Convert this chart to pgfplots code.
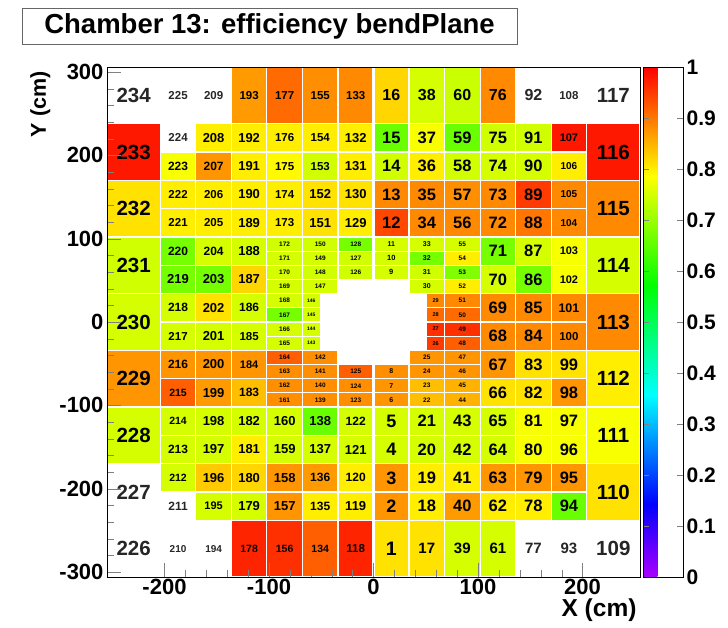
\documentclass[border=0pt]{standalone}
\usepackage{fontspec}
\setmainfont{Liberation Sans}
\usepackage{pgfplots}
\usepgfplotslibrary{patchplots}
\pgfplotsset{compat=1.18}
\pgfplotsset{colormap={rootpal}{rgb(0pt)=(0.667,0,1) rgb(40pt)=(0,0,1) rgb(100pt)=(0,1,1) rgb(160pt)=(0,1,0) rgb(220pt)=(1,1,0) rgb(280pt)=(1,0,0)}}
% x1 x2 y1 y2 efficiency label fontsize
\newcommand\cell[7]{%
 \addplot[patch,patch type=rectangle,shader=faceted,faceted color=white,line width=1.2pt,point meta=explicit]
   coordinates {(#1,#3) [#5] (#2,#3) [#5] (#2,#4) [#5] (#1,#4) [#5]};
 \node[font=\bfseries\fontsize{#7}{#7}\selectfont,inner sep=0pt] at (axis cs:{(#1+#2)/2},{(#3+#4)/2}) {#6};}
\newcommand\ecell[6]{%
 \node[font=\bfseries\fontsize{#6}{#6}\selectfont,inner sep=0pt,black!85] at (axis cs:{(#1+#2)/2},{(#3+#4)/2}) {#5};}
\begin{document}
\begin{tikzpicture}
\useasboundingbox (-107pt,-51pt) rectangle (621pt,577pt);
\begin{axis}[
  scale only axis, width=533pt, height=510pt, at={(0,0)}, anchor=south west,
  xmin=-255, xmax=255, ymin=-306, ymax=306,
  axis on top,
  colormap name=rootpal, point meta min=0, point meta max=1,
  xtick={-200,-100,0,100,200}, ytick={-300,-200,-100,0,100,200,300},
  minor tick num=4, tick align=inside, xtick pos=bottom, ytick pos=left,
  major tick length=14pt, minor tick length=7pt,
  /pgf/number format/assume math mode=true,
  ticklabel style={font=\bfseries\fontsize{22}{22}\selectfont},
  xticklabel style={yshift=1pt},
  xlabel={X (cm)}, ylabel={Y (cm)},
  xlabel style={font=\bfseries\fontsize{24.5}{24.5}\selectfont, at={(axis description cs:1,-0.066)}, anchor=east},
  ylabel style={font=\bfseries\fontsize{21.5}{21.5}\selectfont, at={(axis description cs:-0.125,0.998)}, anchor=east},
  colorbar,
  colorbar shift/.style={xshift=3pt},
  colorbar style={scale only axis, width=40pt,
    ytick={0,0.1,0.2,0.3,0.4,0.5,0.6,0.7,0.8,0.9,1},
    /pgf/number format/assume math mode=true,
    yticklabel style={font=\bfseries\fontsize{21}{21}\selectfont,/pgf/number format/fixed,/pgf/number format/precision=1},
    major tick length=6pt, tick align=inside},
]
% ---- line 9
\ecell{-255}{-204}{238}{306}{234}{20.5}
\ecell{-204}{-170}{238}{306}{225}{11.5}
\ecell{-170}{-136}{238}{306}{209}{11.5}
\cell{-136}{-102}{238}{306}{0.87}{193}{11.5}
\cell{-102}{-68}{238}{306}{0.91}{177}{11.5}
\cell{-68}{-34}{238}{306}{0.88}{155}{11.5}
\cell{-34}{0}{238}{306}{0.885}{133}{11.5}
\cell{0}{34}{238}{306}{0.82}{16}{16}
\cell{34}{68}{238}{306}{0.75}{38}{16}
\cell{68}{102}{238}{306}{0.74}{60}{16}
\cell{102}{136}{238}{306}{0.885}{76}{16}
\ecell{136}{170}{238}{306}{92}{16}
\ecell{170}{204}{238}{306}{108}{11.5}
\ecell{204}{255}{238}{306}{117}{20.5}
% ---- line 8
\cell{-255}{-204}{170}{238}{0.98}{233}{20.5}
\ecell{-204}{-170}{204}{238}{224}{11.5}
\cell{-204}{-170}{170}{204}{0.78}{223}{12}
\cell{-170}{-136}{204}{238}{0.80}{208}{13}
\cell{-170}{-136}{170}{204}{0.875}{207}{12}
\cell{-136}{-102}{204}{238}{0.80}{192}{13}
\cell{-136}{-102}{170}{204}{0.80}{191}{13}
\cell{-102}{-68}{204}{238}{0.80}{176}{11.5}
\cell{-102}{-68}{170}{204}{0.79}{175}{11.5}
\cell{-68}{-34}{204}{238}{0.80}{154}{11.5}
\cell{-68}{-34}{170}{204}{0.745}{153}{11.5}
\cell{-34}{0}{204}{238}{0.80}{132}{13}
\cell{-34}{0}{170}{204}{0.80}{131}{13}
\cell{0}{34}{204}{238}{0.66}{15}{16.5}
\cell{0}{34}{170}{204}{0.745}{14}{16.5}
\cell{34}{68}{204}{238}{0.78}{37}{16.5}
\cell{34}{68}{170}{204}{0.80}{36}{16.5}
\cell{68}{102}{204}{238}{0.66}{59}{16.5}
\cell{68}{102}{170}{204}{0.745}{58}{16.5}
\cell{102}{136}{204}{238}{0.745}{75}{16.5}
\cell{102}{136}{170}{204}{0.75}{74}{16.5}
\cell{136}{170}{204}{238}{0.745}{91}{16.5}
\cell{136}{170}{170}{204}{0.75}{90}{16.5}
\cell{170}{204}{204}{238}{0.98}{107}{11}
\cell{170}{204}{170}{204}{0.80}{106}{10}
\cell{204}{255}{170}{238}{0.98}{116}{20.5}
% ---- line 7
\cell{-255}{-204}{102}{170}{0.81}{232}{20.5}
\cell{-204}{-170}{136}{170}{0.80}{222}{11.5}
\cell{-204}{-170}{102}{136}{0.80}{221}{11.5}
\cell{-170}{-136}{136}{170}{0.80}{206}{11.5}
\cell{-170}{-136}{102}{136}{0.80}{205}{11.5}
\cell{-136}{-102}{136}{170}{0.80}{190}{13}
\cell{-136}{-102}{102}{136}{0.80}{189}{13}
\cell{-102}{-68}{136}{170}{0.80}{174}{11.5}
\cell{-102}{-68}{102}{136}{0.80}{173}{11.5}
\cell{-68}{-34}{136}{170}{0.81}{152}{13}
\cell{-68}{-34}{102}{136}{0.81}{151}{13}
\cell{-34}{0}{136}{170}{0.81}{130}{13}
\cell{-34}{0}{102}{136}{0.80}{129}{13}
\cell{0}{34}{136}{170}{0.885}{13}{16.5}
\cell{0}{34}{102}{136}{0.94}{12}{16.5}
\cell{34}{68}{136}{170}{0.885}{35}{16.5}
\cell{34}{68}{102}{136}{0.885}{34}{16.5}
\cell{68}{102}{136}{170}{0.88}{57}{16.5}
\cell{68}{102}{102}{136}{0.885}{56}{16.5}
\cell{102}{136}{136}{170}{0.885}{73}{16.5}
\cell{102}{136}{102}{136}{0.885}{72}{16.5}
\cell{136}{170}{136}{170}{0.95}{89}{16.5}
\cell{136}{170}{102}{136}{0.90}{88}{16.5}
\cell{170}{204}{136}{170}{0.885}{105}{10}
\cell{170}{204}{102}{136}{0.885}{104}{10}
\cell{204}{255}{102}{170}{0.885}{115}{20.5}
% ---- line 6
\cell{-255}{-204}{34}{102}{0.745}{231}{20.5}
\cell{-204}{-170}{68}{102}{0.67}{220}{12}
\cell{-204}{-170}{34}{68}{0.67}{219}{13}
\cell{-170}{-136}{68}{102}{0.75}{204}{12}
\cell{-170}{-136}{34}{68}{0.67}{203}{13}
\cell{-136}{-102}{68}{102}{0.75}{188}{13}
\cell{-136}{-102}{34}{68}{0.82}{187}{13}
\cell{-102}{-68}{85}{102}{0.745}{172}{6.5}
\cell{-102}{-68}{68}{85}{0.75}{171}{6.5}
\cell{-102}{-68}{51}{68}{0.75}{170}{6.5}
\cell{-102}{-68}{34}{51}{0.75}{169}{6.5}
\cell{-68}{-34}{85}{102}{0.745}{150}{6.5}
\cell{-68}{-34}{68}{85}{0.75}{149}{6.5}
\cell{-68}{-34}{51}{68}{0.745}{148}{6.5}
\cell{-68}{-34}{34}{51}{0.75}{147}{6.5}
\cell{-34}{0}{85}{102}{0.67}{128}{6.5}
\cell{-34}{0}{68}{85}{0.745}{127}{6.5}
\cell{-34}{0}{51}{68}{0.745}{126}{6.5}
\cell{0}{34}{85}{102}{0.75}{11}{7}
\cell{0}{34}{68}{85}{0.75}{10}{7.5}
\cell{0}{34}{51}{68}{0.75}{9}{7.5}
\cell{34}{68}{85}{102}{0.75}{33}{7}
\cell{34}{68}{68}{85}{0.67}{32}{7}
\cell{34}{68}{51}{68}{0.745}{31}{7}
\cell{34}{68}{34}{51}{0.75}{30}{7}
\cell{68}{102}{85}{102}{0.75}{55}{6.5}
\cell{68}{102}{68}{85}{0.80}{54}{6.5}
\cell{68}{102}{51}{68}{0.68}{53}{6.5}
\cell{68}{102}{34}{51}{0.80}{52}{6.5}
\cell{102}{136}{68}{102}{0.67}{71}{16.5}
\cell{102}{136}{34}{68}{0.75}{70}{16.5}
\cell{136}{170}{68}{102}{0.75}{87}{16.5}
\cell{136}{170}{34}{68}{0.67}{86}{16.5}
\cell{170}{204}{68}{102}{0.78}{103}{11}
\cell{170}{204}{34}{68}{0.78}{102}{11}
\cell{204}{255}{34}{102}{0.75}{114}{20.5}
% ---- line 5
\cell{-255}{-204}{-34}{34}{0.75}{230}{20.5}
\cell{-204}{-170}{0}{34}{0.75}{218}{12}
\cell{-204}{-170}{-34}{0}{0.75}{217}{11.5}
\cell{-170}{-136}{0}{34}{0.81}{202}{13}
\cell{-170}{-136}{-34}{0}{0.75}{201}{13}
\cell{-136}{-102}{0}{34}{0.75}{186}{12}
\cell{-136}{-102}{-34}{0}{0.75}{185}{11.5}
\cell{-102}{-68}{17}{34}{0.75}{168}{6.5}
\cell{-102}{-68}{0}{17}{0.67}{167}{6.5}
\cell{-102}{-68}{-17}{0}{0.75}{166}{6.5}
\cell{-102}{-68}{-34}{-17}{0.75}{165}{6.5}
\cell{-68}{-51}{17}{34}{0.75}{146}{5}
\cell{-68}{-51}{0}{17}{0.75}{145}{5}
\cell{-68}{-51}{-17}{0}{0.75}{144}{5}
\cell{-68}{-51}{-34}{-17}{0.75}{143}{5}
\cell{51}{68}{17}{34}{0.885}{29}{5.5}
\cell{51}{68}{0}{17}{0.91}{28}{5.5}
\cell{51}{68}{-17}{0}{0.96}{27}{5.5}
\cell{51}{68}{-34}{-17}{0.95}{26}{5.5}
\cell{68}{102}{17}{34}{0.885}{51}{6.5}
\cell{68}{102}{0}{17}{0.91}{50}{6.5}
\cell{68}{102}{-17}{0}{0.96}{49}{6.5}
\cell{68}{102}{-34}{-17}{0.92}{48}{6.5}
\cell{102}{136}{0}{34}{0.885}{69}{16.5}
\cell{102}{136}{-34}{0}{0.885}{68}{16.5}
\cell{136}{170}{0}{34}{0.885}{85}{16.5}
\cell{136}{170}{-34}{0}{0.885}{84}{16.5}
\cell{170}{204}{0}{34}{0.885}{101}{12.5}
\cell{170}{204}{-34}{0}{0.885}{100}{11.5}
\cell{204}{255}{-34}{34}{0.885}{113}{20.5}
% ---- line 4
\cell{-255}{-204}{-102}{-34}{0.875}{229}{20.5}
\cell{-204}{-170}{-68}{-34}{0.875}{216}{12}
\cell{-204}{-170}{-102}{-68}{0.92}{215}{10.5}
\cell{-170}{-136}{-68}{-34}{0.875}{200}{13}
\cell{-170}{-136}{-102}{-68}{0.87}{199}{13}
\cell{-136}{-102}{-68}{-34}{0.875}{184}{11}
\cell{-136}{-102}{-102}{-68}{0.84}{183}{12}
\cell{-102}{-68}{-51}{-34}{0.92}{164}{6.5}
\cell{-102}{-68}{-68}{-51}{0.88}{163}{6.5}
\cell{-102}{-68}{-85}{-68}{0.88}{162}{6.5}
\cell{-102}{-68}{-102}{-85}{0.88}{161}{6.5}
\cell{-68}{-34}{-51}{-34}{0.88}{142}{6.5}
\cell{-68}{-34}{-68}{-51}{0.88}{141}{6.5}
\cell{-68}{-34}{-85}{-68}{0.88}{140}{6.5}
\cell{-68}{-34}{-102}{-85}{0.88}{139}{6.5}
\cell{-34}{0}{-68}{-51}{0.92}{125}{6.5}
\cell{-34}{0}{-85}{-68}{0.88}{124}{6.5}
\cell{-34}{0}{-102}{-85}{0.88}{123}{6.5}
\cell{0}{34}{-68}{-51}{0.88}{8}{7}
\cell{0}{34}{-85}{-68}{0.875}{7}{7}
\cell{0}{34}{-102}{-85}{0.875}{6}{7}
\cell{34}{68}{-51}{-34}{0.875}{25}{6.5}
\cell{34}{68}{-68}{-51}{0.875}{24}{6.5}
\cell{34}{68}{-85}{-68}{0.84}{23}{6.5}
\cell{34}{68}{-102}{-85}{0.84}{22}{6.5}
\cell{68}{102}{-51}{-34}{0.875}{47}{6.5}
\cell{68}{102}{-68}{-51}{0.875}{46}{6.5}
\cell{68}{102}{-85}{-68}{0.85}{45}{6.5}
\cell{68}{102}{-102}{-85}{0.85}{44}{6.5}
\cell{102}{136}{-68}{-34}{0.875}{67}{16.5}
\cell{102}{136}{-102}{-68}{0.81}{66}{16.5}
\cell{136}{170}{-68}{-34}{0.81}{83}{16.5}
\cell{136}{170}{-102}{-68}{0.81}{82}{16.5}
\cell{170}{204}{-68}{-34}{0.81}{99}{16.5}
\cell{170}{204}{-102}{-68}{0.875}{98}{16.5}
\cell{204}{255}{-102}{-34}{0.80}{112}{20.5}
% ---- line 3
\cell{-255}{-204}{-170}{-102}{0.75}{228}{20.5}
\cell{-204}{-170}{-136}{-102}{0.75}{214}{10.5}
\cell{-204}{-170}{-170}{-136}{0.75}{213}{12}
\cell{-170}{-136}{-136}{-102}{0.75}{198}{13}
\cell{-170}{-136}{-170}{-136}{0.75}{197}{13}
\cell{-136}{-102}{-136}{-102}{0.75}{182}{13}
\cell{-136}{-102}{-170}{-136}{0.80}{181}{13}
\cell{-102}{-68}{-136}{-102}{0.75}{160}{13}
\cell{-102}{-68}{-170}{-136}{0.75}{159}{13}
\cell{-68}{-34}{-136}{-102}{0.66}{138}{13}
\cell{-68}{-34}{-170}{-136}{0.75}{137}{13}
\cell{-34}{0}{-136}{-102}{0.75}{122}{12}
\cell{-34}{0}{-170}{-136}{0.75}{121}{13}
\cell{0}{34}{-136}{-102}{0.75}{5}{18}
\cell{0}{34}{-170}{-136}{0.75}{4}{18}
\cell{34}{68}{-136}{-102}{0.75}{21}{16.5}
\cell{34}{68}{-170}{-136}{0.75}{20}{16.5}
\cell{68}{102}{-136}{-102}{0.75}{43}{16.5}
\cell{68}{102}{-170}{-136}{0.75}{42}{16.5}
\cell{102}{136}{-136}{-102}{0.75}{65}{16.5}
\cell{102}{136}{-170}{-136}{0.75}{64}{16.5}
\cell{136}{170}{-136}{-102}{0.78}{81}{16.5}
\cell{136}{170}{-170}{-136}{0.78}{80}{16.5}
\cell{170}{204}{-136}{-102}{0.78}{97}{16.5}
\cell{170}{204}{-170}{-136}{0.78}{96}{16.5}
\cell{204}{255}{-170}{-102}{0.78}{111}{20.5}
% ---- line 2
\ecell{-255}{-204}{-238}{-170}{227}{20.5}
\cell{-204}{-170}{-204}{-170}{0.75}{212}{10.5}
\ecell{-204}{-170}{-238}{-204}{211}{12}
\cell{-170}{-136}{-204}{-170}{0.83}{196}{13}
\cell{-170}{-136}{-238}{-204}{0.75}{195}{11}
\cell{-136}{-102}{-204}{-170}{0.82}{180}{13}
\cell{-136}{-102}{-238}{-204}{0.75}{179}{13}
\cell{-102}{-68}{-204}{-170}{0.875}{158}{13}
\cell{-102}{-68}{-238}{-204}{0.875}{157}{13}
\cell{-68}{-34}{-204}{-170}{0.87}{136}{12}
\cell{-68}{-34}{-238}{-204}{0.80}{135}{12}
\cell{-34}{0}{-204}{-170}{0.80}{120}{12}
\cell{-34}{0}{-238}{-204}{0.80}{119}{13}
\cell{0}{34}{-204}{-170}{0.875}{3}{18}
\cell{0}{34}{-238}{-204}{0.875}{2}{18}
\cell{34}{68}{-204}{-170}{0.80}{19}{16.5}
\cell{34}{68}{-238}{-204}{0.80}{18}{16.5}
\cell{68}{102}{-204}{-170}{0.80}{41}{16.5}
\cell{68}{102}{-238}{-204}{0.87}{40}{16.5}
\cell{102}{136}{-204}{-170}{0.875}{63}{16.5}
\cell{102}{136}{-238}{-204}{0.80}{62}{16.5}
\cell{136}{170}{-204}{-170}{0.875}{79}{16.5}
\cell{136}{170}{-238}{-204}{0.80}{78}{16.5}
\cell{170}{204}{-204}{-170}{0.875}{95}{16.5}
\cell{170}{204}{-238}{-204}{0.66}{94}{16.5}
\cell{204}{255}{-238}{-170}{0.81}{110}{20.5}
% ---- line 1
\ecell{-255}{-204}{-306}{-238}{226}{20.5}
\ecell{-204}{-170}{-306}{-238}{210}{10}
\ecell{-170}{-136}{-306}{-238}{194}{10}
\cell{-136}{-102}{-306}{-238}{0.97}{178}{10.5}
\cell{-102}{-68}{-306}{-238}{0.96}{156}{10.5}
\cell{-68}{-34}{-306}{-238}{0.92}{134}{10.5}
\cell{-34}{0}{-306}{-238}{0.97}{118}{11.5}
\cell{0}{34}{-306}{-238}{0.81}{1}{19.5}
\cell{34}{68}{-306}{-238}{0.81}{17}{15}
\cell{68}{102}{-306}{-238}{0.75}{39}{15}
\cell{102}{136}{-306}{-238}{0.75}{61}{15}
\ecell{136}{170}{-306}{-238}{77}{15}
\ecell{170}{204}{-306}{-238}{93}{15}
\ecell{204}{255}{-306}{-238}{109}{20.5}
% white gap between the two half-planes
\addplot[white, line width=3.5pt, forget plot] coordinates {(0,-306) (0,306)};
\end{axis}
\node[draw=black!60, line width=0.8pt, fill=white, minimum width=495pt, minimum height=36pt,
      font=\bfseries\fontsize{27.5}{27.5}\selectfont] at (162.5pt,551pt) {Chamber 13: efficiency bendPlane};
\end{tikzpicture}
\end{document}
